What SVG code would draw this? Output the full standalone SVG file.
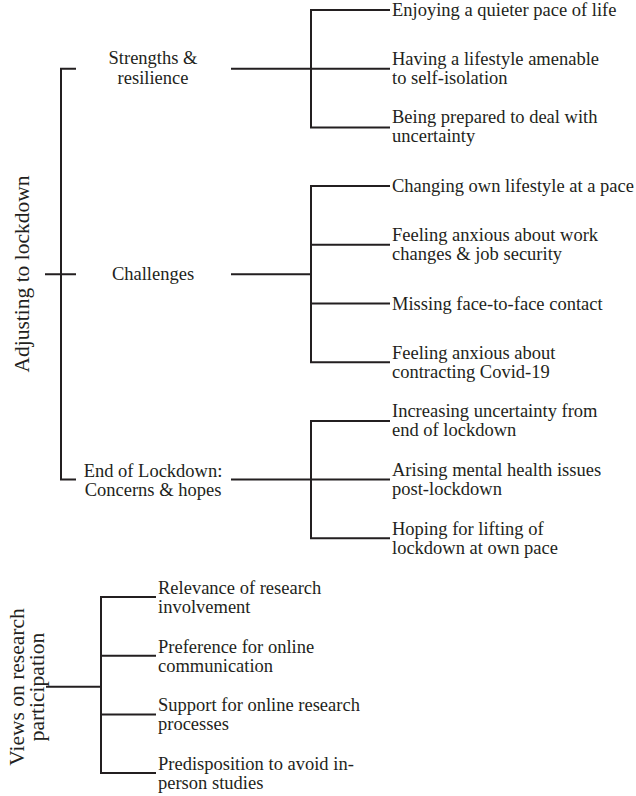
<svg xmlns="http://www.w3.org/2000/svg" width="636" height="796" viewBox="0 0 636 796">
<style>
text{font-family:"Liberation Serif","Times New Roman",serif;font-size:18.5px;fill:#231f20}
.rot{font-size:21.5px}
.mid{text-anchor:middle}
#connectors path{fill:none;stroke:#231f20;stroke-width:2}
</style>
<rect width="636" height="796" fill="#fff"/>
<g id="connectors">
<path d="M76,68.7H61V479.6H76M45,274.15H76"/>
<path d="M231,68.7H311M390,10H311V127.4H390M311,68.7H390"/>
<path d="M231,274.15H311M390,186.1H311V362.2H390M311,244.8H390M311,303.5H390"/>
<path d="M231,479.6H311M390,420.9H311V538.3H390M311,479.6H390"/>
<path d="M46,686.7H101M156,597H101V773.1H156M101,655.7H156M101,714.4H156"/>
</g>
<g id="root-adjusting"><text class="rot mid" transform="translate(28.5,274) rotate(-90)">Adjusting to lockdown</text></g>
<g id="strengths"><text class="mid" x="153" y="63.5">Strengths &amp;</text><text class="mid" x="153" y="83.5">resilience</text></g>
<g id="challenges"><text class="mid" x="153" y="280">Challenges</text></g>
<g id="end-lockdown"><text class="mid" x="153" y="476.6">End of Lockdown:</text><text class="mid" x="153" y="495.6">Concerns &amp; hopes</text></g>
<g id="s1"><text x="392" y="16">Enjoying a quieter pace of life</text></g>
<g id="s2"><text x="392" y="64.7">Having a lifestyle amenable</text><text x="392" y="83.7">to self-isolation</text></g>
<g id="s3"><text x="392" y="123.4">Being prepared to deal with</text><text x="392" y="142.4">uncertainty</text></g>
<g id="c1"><text x="392" y="192.1">Changing own lifestyle at a pace</text></g>
<g id="c2"><text x="392" y="241.3">Feeling anxious about work</text><text x="392" y="260.3">changes &amp; job security</text></g>
<g id="c3"><text x="392" y="309.5">Missing face-to-face contact</text></g>
<g id="c4"><text x="392" y="358.7">Feeling anxious about</text><text x="392" y="377.7">contracting Covid-19</text></g>
<g id="e1"><text x="392" y="417.4">Increasing uncertainty from</text><text x="392" y="436.4">end of lockdown</text></g>
<g id="e2"><text x="392" y="476.1">Arising mental health issues</text><text x="392" y="495.1">post-lockdown</text></g>
<g id="e3"><text x="392" y="534.8">Hoping for lifting of</text><text x="392" y="553.8">lockdown at own pace</text></g>
<g id="root-views"><text class="rot mid" transform="translate(23.5,687) rotate(-90)">Views on research</text><text class="rot mid" transform="translate(44,687) rotate(-90)">participation</text></g>
<g id="v1"><text x="158" y="594">Relevance of research</text><text x="158" y="613">involvement</text></g>
<g id="v2"><text x="158" y="652.7">Preference for online</text><text x="158" y="671.7">communication</text></g>
<g id="v3"><text x="158" y="711.4">Support for online research</text><text x="158" y="730.4">processes</text></g>
<g id="v4"><text x="158" y="770.1">Predisposition to avoid in-</text><text x="158" y="789.1">person studies</text></g>
</svg>
